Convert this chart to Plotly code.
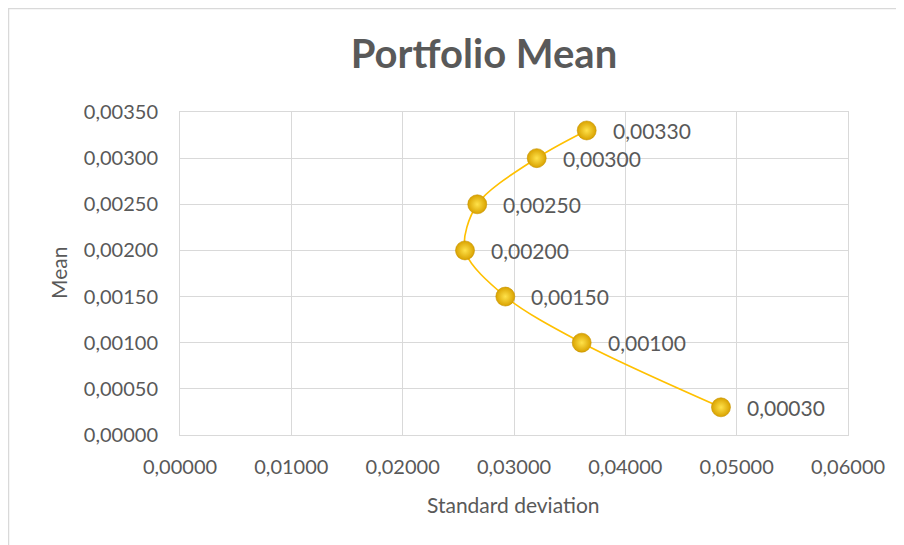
import plotly.graph_objects as go

std_dev = [0.03653, 0.03204, 0.02670, 0.02560, 0.02922, 0.03608, 0.04859]
mean = [0.00330, 0.00300, 0.00250, 0.00200, 0.00150, 0.00100, 0.00030]
x_ticks = [0.0, 0.01, 0.02, 0.03, 0.04, 0.05, 0.06]
y_ticks = [0.0, 0.0005, 0.001, 0.0015, 0.002, 0.0025, 0.003, 0.0035]

def fmt(v):
    return f"{v:.5f}".replace('.', ',')

TXT = '#595959'
GRID = '#D9D9D9'
FONT = 'Lato'

OFF = 8  # page body margin
W, H = 904 - OFF, 545 - OFF
L, R, T, B = 180 - OFF, 848 - OFF, 112 - OFF, 435 - OFF
PW, PH = R - L, B - T

def px(xp):
    return (xp - OFF - L) / PW

def py(yp):
    return (B - (yp - OFF)) / PH

fig = go.Figure()
fig.add_trace(go.Scatter(
    x=std_dev, y=mean, mode='lines+markers',
    line=dict(color='#FFC000', width=1.6, shape='spline', smoothing=0.9),
    marker=dict(size=19, color='#D9A200',
                gradient=dict(type='radial', color='#FFE24A'),
                line=dict(width=0.6, color='#C89400')),
    hoverinfo='skip', showlegend=False,
))

for xv, yv in zip(std_dev, mean):
    fig.add_annotation(x=xv, y=yv, text=fmt(yv), showarrow=False,
                       xanchor='left', yanchor='middle', xshift=24,
                       font=dict(family=FONT, size=21, color=TXT))

fig.add_annotation(xref='paper', yref='paper', x=px(58), y=py(273), text='Mean',
                   textangle=-90, showarrow=False, xanchor='center', yanchor='middle',
                   font=dict(family=FONT, size=21, color=TXT))
fig.add_annotation(xref='paper', yref='paper', x=px(513), y=py(504), text='Standard deviation',
                   showarrow=False, xanchor='center', yanchor='middle',
                   font=dict(family=FONT, size=21, color=TXT))

fig.add_shape(type='rect', xref='paper', yref='paper',
              x0=px(8.5), x1=px(960), y0=py(600), y1=py(8.5),
              line=dict(color='#D9D9D9', width=1.5), fillcolor='rgba(0,0,0,0)',
              layer='below')

fig.update_layout(
    width=W, height=H,
    margin=dict(l=L, r=W - R, t=T, b=H - B, autoexpand=False),
    paper_bgcolor='white', plot_bgcolor='white',
    separators=',.',
    title=dict(text='<b>Portfolio Mean</b>', x=((352 + 616) / 2 - OFF) / W, xanchor='center',
               y=1 - (54 - OFF) / H, yanchor='middle', automargin=False,
               font=dict(family=FONT, size=40, color=TXT)),
    xaxis=dict(range=[0, 0.06], tickvals=x_ticks, ticktext=[fmt(v) for v in x_ticks],
               showgrid=True, gridcolor=GRID, gridwidth=1.3, zeroline=False,
               showline=True, linecolor=GRID, mirror=True, ticks='',
               automargin=False, ticklabelstandoff=14,
               tickfont=dict(family=FONT, size=20, color=TXT)),
    yaxis=dict(range=[0, 0.0035], tickvals=y_ticks, ticktext=[fmt(v) for v in y_ticks],
               showgrid=True, gridcolor=GRID, gridwidth=1.3, zeroline=False,
               showline=True, linecolor=GRID, mirror=True, ticks='',
               automargin=False, ticklabelstandoff=17,
               tickfont=dict(family=FONT, size=20, color=TXT)),
)

fig.write_html('out.html')
